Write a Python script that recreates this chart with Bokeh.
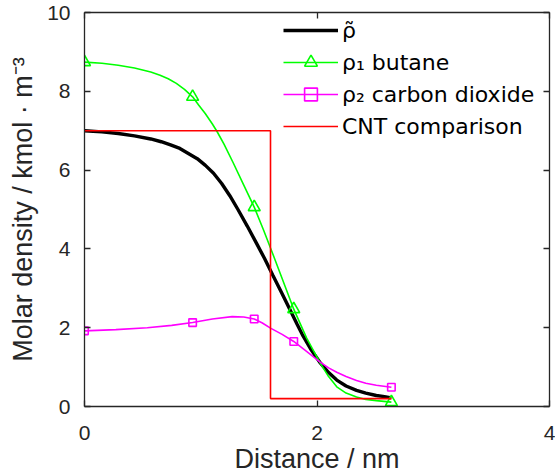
from bokeh.plotting import figure
from bokeh.models import LinearAxis, Legend, LegendItem, Range1d, FixedTicker
from bokeh.embed import file_html
from bokeh.resources import INLINE

# Marker positions (nm, kmol/m^3)
distance_nodes = [0.0, 0.93, 1.46, 1.80, 2.64]
butane_nodes = [8.74, 7.86, 5.06, 2.47, 0.11]
co2_nodes = [1.92, 2.13, 2.22, 1.65, 0.49]

# Smooth butane profile
butane_x = [0.0, 0.15, 0.29, 0.43, 0.57, 0.65, 0.72, 0.79, 0.86, 0.93, 0.98, 1.04,
            1.10, 1.14, 1.20, 1.28, 1.37, 1.46, 1.54, 1.62, 1.70, 1.80, 1.91, 2.03,
            2.10, 2.17, 2.25, 2.34, 2.42, 2.51, 2.64]
butane_y = [8.74, 8.71, 8.66, 8.59, 8.49, 8.41, 8.32, 8.20, 8.05, 7.86, 7.66, 7.43,
            7.17, 6.98, 6.66, 6.18, 5.62, 5.06, 4.48, 3.87, 3.25, 2.47, 1.74, 1.09,
            0.76, 0.50, 0.34, 0.24, 0.18, 0.15, 0.11]

# Smooth carbon dioxide profile
co2_x = [0.0, 0.27, 0.54, 0.75, 0.93, 1.10, 1.27, 1.37, 1.46, 1.53, 1.60, 1.70,
         1.80, 1.91, 2.03, 2.10, 2.17, 2.25, 2.34, 2.42, 2.51, 2.64]
co2_y = [1.92, 1.95, 2.00, 2.06, 2.13, 2.22, 2.28, 2.27, 2.22, 2.12, 1.99, 1.83,
         1.65, 1.40, 1.12, 0.98, 0.87, 0.76, 0.66, 0.59, 0.54, 0.49]

# Total density profile
rho_x = [0.0, 0.15, 0.29, 0.43, 0.57, 0.66, 0.74, 0.82, 0.97, 1.04, 1.11, 1.18,
         1.25, 1.32, 1.40, 1.48, 1.55, 1.62, 1.70, 1.77, 1.83, 1.88, 1.95, 2.03,
         2.10, 2.17, 2.25, 2.34, 2.42, 2.51, 2.58, 2.64]
rho_y = [7.00, 6.97, 6.93, 6.87, 6.79, 6.72, 6.64, 6.55, 6.29, 6.12, 5.92, 5.66,
         5.35, 5.00, 4.58, 4.14, 3.75, 3.33, 2.86, 2.44, 2.08, 1.79, 1.44, 1.10,
         0.86, 0.67, 0.52, 0.41, 0.34, 0.28, 0.25, 0.22]

# Sharp-interface (CNT) profile
cnt_x = [0.0, 1.6, 1.6, 2.64]
cnt_y = [7.0, 7.0, 0.2, 0.2]

x_ticks = [0, 2, 4]
y_ticks = [0, 2, 4, 6, 8, 10]

AX = "#262626"
SANS = "Liberation Sans"

p = figure(width=555, height=476, output_backend="svg", toolbar_location=None,
           x_range=Range1d(0, 4), y_range=Range1d(0, 10),
           min_border_left=84, min_border_right=6, min_border_top=12, min_border_bottom=70,
           x_axis_label="Distance / nm",
           y_axis_label="Molar density / kmol \u00b7 m\u207b\u00b3")
p.grid.visible = False
p.outline_line_color = None
p.background_fill_color = "white"
p.border_fill_color = "white"

rho_r = p.line(rho_x, rho_y, line_color="black", line_width=3.4)
but_l = p.line(butane_x, butane_y, line_color="#00ff00", line_width=1.6)
but_m = p.scatter(distance_nodes, butane_nodes, marker="triangle", size=12,
                  fill_color=None, line_color="#00ff00", line_width=1.6)
co2_l = p.line(co2_x, co2_y, line_color="#ff00ff", line_width=1.6)
co2_m = p.scatter(distance_nodes, co2_nodes, marker="square", size=7.5,
                  fill_color=None, line_color="#ff00ff", line_width=1.6)
cnt_r = p.line(cnt_x, cnt_y, line_color="#ff0000", line_width=1.6)

xa = p.below[0]
ya = p.left[0]
top = LinearAxis()
right = LinearAxis()
p.add_layout(top, "above")
p.add_layout(right, "right")

xa.ticker = FixedTicker(ticks=x_ticks)
top.ticker = FixedTicker(ticks=x_ticks)
ya.ticker = FixedTicker(ticks=y_ticks)
right.ticker = FixedTicker(ticks=y_ticks)

for ax in [xa, ya, top, right]:
    ax.axis_line_color = AX
    ax.axis_line_width = 1.3
    ax.major_tick_line_color = AX
    ax.major_tick_line_width = 1.3
    ax.major_tick_in = 6
    ax.major_tick_out = 0
    ax.minor_tick_line_color = None
    ax.major_label_text_font = SANS
    ax.major_label_text_font_size = "21px"
    ax.major_label_text_color = AX
    ax.axis_label_text_font = SANS
    ax.axis_label_text_font_size = "27px"
    ax.axis_label_text_font_style = "normal"
    ax.axis_label_text_color = AX

# frame-only axes: ticks but no labels
for ax in [top, right]:
    ax.major_label_text_color = None
    ax.major_label_text_font_size = "0px"
    ax.major_label_standoff = 0

xa.major_label_standoff = 19
xa.axis_label_standoff = 1
ya.major_label_standoff = 14
ya.axis_label_standoff = 6

legend = Legend(items=[
    LegendItem(label="\u03c1\u0303", renderers=[rho_r]),
    LegendItem(label="\u03c1\u2081 butane", renderers=[but_l, but_m]),
    LegendItem(label="\u03c1\u2082 carbon dioxide", renderers=[co2_l, co2_m]),
    LegendItem(label="CNT comparison", renderers=[cnt_r]),
], location=(199, 264))
legend.border_line_color = None
legend.background_fill_alpha = 0
legend.padding = 3
legend.margin = 0
legend.spacing = 0
legend.glyph_width = 55
legend.glyph_height = 32
legend.label_height = 32
legend.label_standoff = 4
legend.label_text_font = "DejaVu Sans"
legend.label_text_font_size = "22px"
legend.label_text_color = "black"
p.add_layout(legend, "center")

open("out.html", "w").write(file_html(p, INLINE))
